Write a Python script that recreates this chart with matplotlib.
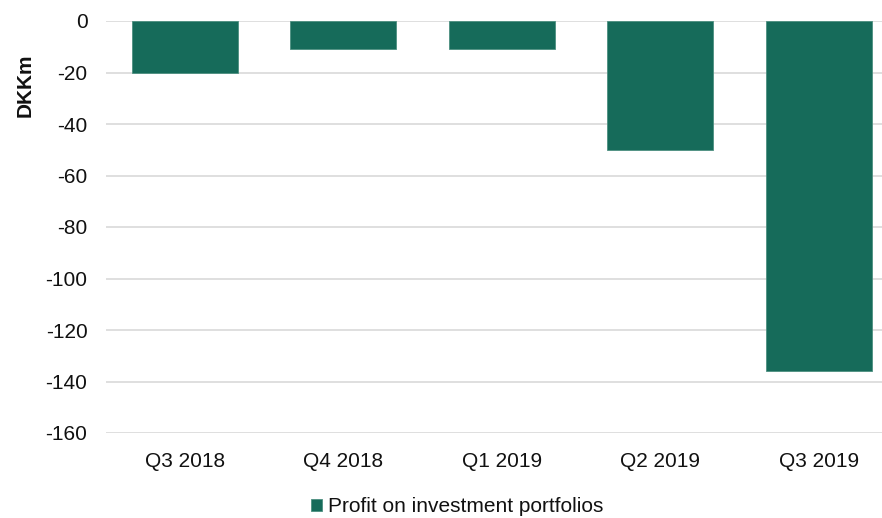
import matplotlib
matplotlib.use("Agg")
import matplotlib.pyplot as plt
import numpy as np

plt.rcParams['font.family'] = ['Liberation Sans', 'DejaVu Sans']

categories = ["Q3 2018", "Q4 2018", "Q1 2019", "Q2 2019", "Q3 2019"]
profit = [-20, -11, -11, -50, -136]
yticks = [0, -20, -40, -60, -80, -100, -120, -140, -160]
series_name = "Profit on investment portfolios"
bar_color = "#166B5A"

W, H = 882, 518
fig = plt.figure(figsize=(W / 100, H / 100), dpi=100)
left, right = 105.5 / W, 898 / W
top, bottom = 1 - 21 / H, 1 - 433 / H
ax = fig.add_axes([left, bottom, right - left, top - bottom])

x = np.arange(len(categories))
ax.bar(x, profit, width=0.67, color=bar_color, edgecolor="#4d8f80", linewidth=0.6,
       label=series_name, zorder=3)

ax.set_xlim(-0.5, len(categories) - 0.5)
ax.set_ylim(-160, 0)
ax.set_yticks(yticks)
ax.set_yticklabels([str(v) for v in yticks])
ax.set_xticks(x)
ax.set_xticklabels(categories)
ax.tick_params(axis='both', length=0, labelsize=15, colors='#111111')
ax.tick_params(axis='x', pad=14)
ax.tick_params(axis='y', pad=13)
ax.yaxis.grid(True, color='#d9d9d9', linewidth=1.2, zorder=0)
ax.set_axisbelow(True)
for s in ax.spines.values():
    s.set_visible(False)

fig.text(25 / W, 1 - 85 / H, "DKKm", rotation=90, fontsize=15, fontweight='bold',
         ha='center', va='center', color='#111111')

fig.legend(loc='center', bbox_to_anchor=(457 / W, 1 - 507 / H), frameon=False,
           fontsize=15, handlelength=0.55, handleheight=0.55, handletextpad=0.25,
           borderpad=0, labelcolor='#111111')

fig.savefig("out.png", dpi=100)
